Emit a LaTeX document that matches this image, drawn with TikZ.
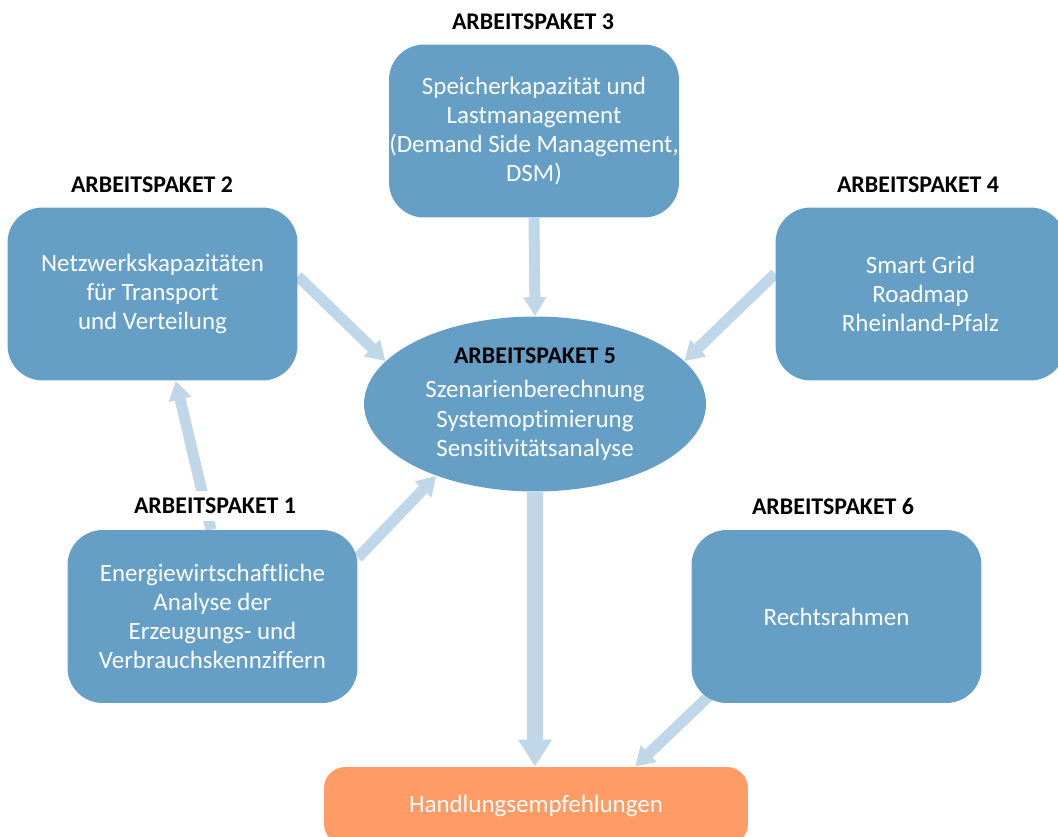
\documentclass[tikz,border=0pt]{standalone}
\usepackage{fontspec}
\setmainfont{Carlito}[Ligatures=NoCommon]
\usetikzlibrary{arrows.meta,positioning,shapes.geometric,backgrounds}
\definecolor{paketblue}{HTML}{659FC6}
\definecolor{flowblue}{HTML}{BFD7E8}
\definecolor{resultorange}{HTML}{FF9B65}
\tikzset{
  paket/.style={fill=paketblue,rounded corners=20pt,text=white,align=center,minimum width=5.8cm,minimum height=3.46cm,inner sep=0pt,font=\fontsize{14.2}{16.6}\selectfont},
  center/.style={ellipse,fill=paketblue,text=white,align=center,minimum width=6.84cm,minimum height=3.5cm,inner sep=0pt,font=\fontsize{14.2}{16.6}\selectfont},
  result/.style={fill=resultorange,rounded corners=12pt,text=white,align=center,minimum width=8.48cm,minimum height=1.56cm,inner sep=0pt,font=\fontsize{14.2}{16.6}\selectfont},
  pakettitle/.style={fill=white,inner sep=4pt,font=\bfseries\fontsize{13.6}{15}\selectfont},
  flow/.style={draw=flowblue,-{Triangle[width=0.44cm,length=0.38cm]},line width=0.22cm},
  bigflow/.style={draw=flowblue,-{Triangle[width=0.64cm,length=0.54cm]},line width=0.32cm},
}

\begin{document}
\begin{tikzpicture}[x=0.02cm,y=-0.02cm]
		\clip (0,0) rectangle (1058,836);
		% work packages
		\node[paket] (ap3) at (534,131) {Speicherkapazität und\\Lastmanagement\\(Demand Side Management,\\DSM)};
		\node[paket] (ap2) at (152.5,294) {Netzwerkskapazitäten\\für Transport\\und Verteilung};
		\node[paket] (ap4) at (920.5,294) {Smart Grid\\Roadmap\\Rheinland-Pfalz};
		\node[paket] (ap1) at (212.5,616.5) {Energiewirtschaftliche\\Analyse der\\Erzeugungs- und\\Verbrauchskennziffern};
		\node[paket] (ap6) at (836.5,616.5) {Rechtsrahmen};
		\node[center] (ap5) at (535,404) {{\color{black}\bfseries\fontsize{13.6}{15}\selectfont ARBEITSPAKET 5}\\[3pt]Szenarienberechnung\\Systemoptimierung\\Sensitivitätsanalyse};
		\node[result] (out) at (536,806) {Handlungsempfehlungen};
		% titles
		\node[pakettitle] (t3) at (533,22) {ARBEITSPAKET 3};
		\node[pakettitle] (t2) at (152,185) {ARBEITSPAKET 2};
		\node[pakettitle] (t4) at (918,185) {ARBEITSPAKET 4};
		\node[pakettitle] (t1) at (215,506) {ARBEITSPAKET 1};
		\node[pakettitle] (t6) at (833,506) {ARBEITSPAKET 6};
		% arrows
		\begin{scope}[on background layer]
			\draw[flow] (ap3.south)--(ap5.north);
			\draw[flow] (ap2.7.5)--(ap5.164);
			\draw[flow] (ap4.172.5)--(ap5.16);
			\draw[flow] (ap1.91.7)--(ap2.285.7);
			\draw[flow] (ap1.22.9)--(ap5.216.8);
			\draw[bigflow] (ap5.south)--(ap5.south |- out.north);
			\draw[flow] ([shift={(30,-19)}]ap6.south west)--([shift={(99,0)}]out.north);
		\end{scope}
	\end{tikzpicture}
\end{document}
